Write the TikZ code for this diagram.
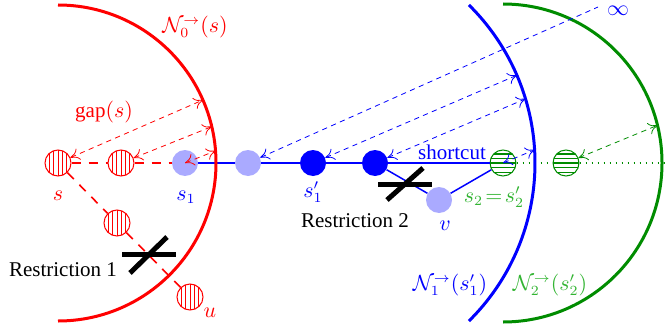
\documentclass[tikz,border=0pt]{standalone}
\usepackage{fontspec}
\setmainfont{Liberation Serif}
\usetikzlibrary{calc,arrows.meta}
\definecolor{lblue}{RGB}{170,170,255}
\definecolor{dgreen}{RGB}{0,140,0}
\definecolor{lgreen}{RGB}{50,180,50}
\tikzset{
  redstripe/.style={circle, draw=red, line width=0.5pt, minimum size=13pt, inner sep=0pt,
    path picture={\foreach \i in {-4.4,-2.2,0,2.2,4.4}
      \draw[red, line width=0.5pt] ([xshift=\i pt]path picture bounding box.north) -- ([xshift=\i pt]path picture bounding box.south);}},
  greenstripe/.style={circle, draw=dgreen, line width=0.5pt, minimum size=13pt, inner sep=0pt,
    path picture={\foreach \i in {-4.6,-2.3,0,2.3,4.6}
      \draw[dgreen, line width=0.7pt] ([yshift=\i pt]path picture bounding box.west) -- ([yshift=\i pt]path picture bounding box.east);}},
  lnode/.style={circle, fill=lblue, minimum size=13pt, inner sep=0pt},
  bnode/.style={circle, fill=blue, minimum size=13pt, inner sep=0pt},
  reddash/.style={red, line width=0.8pt, dash pattern=on 4.5pt off 4pt},
  thinarrow/.style={line width=0.4pt, dash pattern=on 2.6pt off 2.2pt, >={To[length=4.5pt,width=6pt]}},
  bigarc/.style={line width=1.5pt},
  bar/.style={line width=2.5pt},
  lbl/.style={inner sep=0pt}
}
\begin{document}
\fontsize{10.5}{12.6}\selectfont
\begin{tikzpicture}[x=0.5pt,y=0.5pt]
\useasboundingbox (0,0) rectangle (668,-326);
% nodes
\node[redstripe] (s) at (58,-163) {};
\node[redstripe] (r2) at (121,-163) {};
\node[lnode] (s1) at (185,-163) {};
\node[lnode] (n4) at (248,-163) {};
\node[bnode] (s1p) at (313,-163) {};
\node[bnode] (n6) at (375,-163) {};
\node[greenstripe] (s2) at (503,-163) {};
\node[greenstripe] (g2) at (566,-163) {};
\node[lnode] (v) at (439,-200) {};
\node[redstripe] (d1) at (117,-223) {};
\node[redstripe] (u) at (190,-297) {};
\coordinate (gend) at (668,-163);
\coordinate (inf) at (598,-7);
% arc points
\coordinate (ra1) at ([shift={(23.5:158)}]s.center);
\coordinate (ra2) at ([shift={(13.3:158)}]s.center);
\coordinate (ra3) at ([shift={(4.4:158)}]s.center);
\coordinate (ba1) at ([shift={(23.3:222)}]s1p.center);
\coordinate (ba2) at ([shift={(16.8:222)}]s1p.center);
\coordinate (ba3) at ([shift={(3.4:222)}]s1p.center);
\coordinate (ga1) at ([shift={(13.7:159)}]s2.center);
% connecting lines
\draw[reddash] (s) -- (r2) -- (s1);
\draw[reddash] (s) -- (d1) -- (u);
\draw[blue, line width=0.75pt] (s1) -- (n4) -- (s1p) -- (n6) -- (s2);
\draw[blue, line width=0.75pt] (n6) -- (v) -- (s2);
\draw[dgreen, line width=0.8pt, dash pattern=on 0.8pt off 2.2pt] (s2) -- (g2) -- (gend);
% big arcs
\draw[red, bigarc] (s.center) ++(90:158) arc[start angle=90, end angle=-90, radius=158];
\draw[blue, bigarc] (s1p.center) ++(45.4:222) arc[start angle=45.4, end angle=-45.4, radius=222];
\draw[dgreen, bigarc] (s2.center) ++(90:159) arc[start angle=90, end angle=-90, radius=159];
% dashed arrows
\draw[red, thinarrow, <->] (s) -- (ra1);
\draw[red, thinarrow, <->] (r2) -- (ra2);
\draw[red, thinarrow, <->] (s1.center) -- (ra3);
\draw[blue, thinarrow, <-] (n4) -- (inf);
\draw[blue, thinarrow, <->] (s1p) -- (ba1);
\draw[blue, thinarrow, <->] (n6) -- (ba2);
\draw[blue, thinarrow, <->] (s2.center) -- (ba3);
\draw[dgreen, thinarrow, <->] (g2) -- (ga1);
% restriction bars
\draw[bar] (122,-254) -- (176,-254);
\draw[bar] (130,-273) -- (167,-237);
\draw[bar] (378,-184) -- (432,-184);
\draw[bar] (387,-200) -- (423,-168);
% labels
\node[lbl, red] (lN0) at (195,-27) {$\mathcal{N}_0^{\rightarrow}(s)$};
\node[lbl, red] (lgap) at (104,-112) {$\mathrm{gap}(s)$};
\node[lbl, red] (ls) at (58,-196) {$s$};
\node[lbl, blue] (ls1) at (186,-197) {$s_1$};
\node[lbl, blue] (ls1p) at (313,-192) {$s_1'$};
\node[lbl] (lr1) at (63,-270) {Restriction 1};
\node[lbl] (lr2) at (355,-221) {Restriction 2};
\node[lbl, red] (lu) at (210,-313) {$u$};
\node[lbl, blue] (lv) at (445,-226) {$v$};
\node[lbl, blue] (lsc) at (452,-152) {shortcut};
\node[lbl, lgreen] (ls2) at (494,-197) {$s_2\!=\!s_2'$};
\node[lbl, blue] (linf) at (618,-11) {$\infty$};
\node[lbl, blue] (lN1) at (450,-285) {$\mathcal{N}_1^{\rightarrow}(s_1')$};
\node[lbl, lgreen] (lN2) at (550,-285) {$\mathcal{N}_2^{\rightarrow}(s_2')$};
\end{tikzpicture}
\end{document}
